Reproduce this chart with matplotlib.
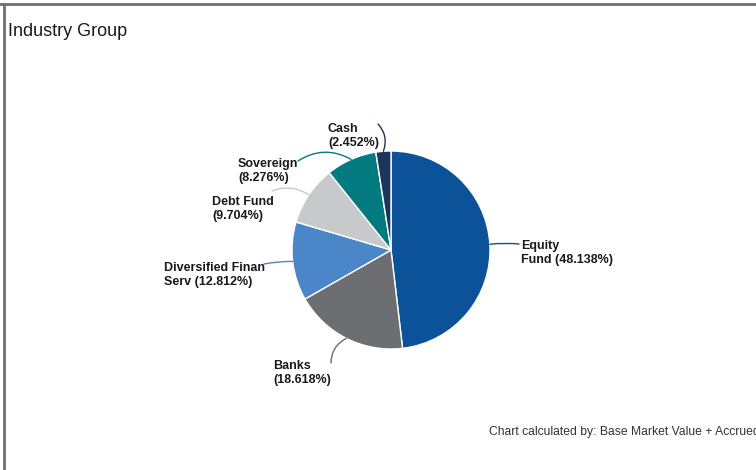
import matplotlib
matplotlib.use("Agg")
import matplotlib.pyplot as plt
from matplotlib.lines import Line2D
import numpy as np

# data
labels = ["Equity\nFund", "Banks", "Diversified Finan\nServ", "Debt Fund", "Sovereign", "Cash"]
values = [48.138, 18.618, 12.812, 9.704, 8.276, 2.452]
colors = ["#0b5299", "#6d6e71", "#4a86c8", "#c8c9ca", "#037a7f", "#1c355e"]

W, H = 756, 470
plt.rcParams['font.family'] = ['Liberation Sans', 'DejaVu Sans']

fig = plt.figure(figsize=(W / 100, H / 100), dpi=100)
ax = fig.add_axes([0, 0, 1, 1])

cx, cy, r = 391, H - 250, 99
wedges, _ = ax.pie(values, colors=colors, startangle=90, counterclock=False,
                   center=(cx, cy), radius=r,
                   wedgeprops=dict(edgecolor="white", linewidth=1))
ax.set_xlim(0, W)
ax.set_ylim(0, H)
ax.axis("off")

# label layout (pixel coords: text top-left, connector end, curvature)
text_pos = [(521, 240), (273, 360), (164, 262), (212, 196), (238, 158), (328, 123)]
line_end = [(519, 244), (331, 363), (264, 264), (272, 191), (298, 161), (378, 124)]
rads = [0.05, -0.3, -0.05, -0.25, -0.3, -0.3]

for w, lab, val, col, tp, le, rad in zip(wedges, labels, values, colors,
                                         text_pos, line_end, rads):
    ang = np.deg2rad((w.theta1 + w.theta2) / 2)
    anchor = (cx + r * np.cos(ang), cy + r * np.sin(ang))
    ax.annotate("", xy=anchor, xytext=(le[0], H - le[1]),
                arrowprops=dict(arrowstyle="-", color=col, lw=1,
                                shrinkA=0, shrinkB=0,
                                connectionstyle="arc3,rad=%s" % rad))
    txt = "%s (%.3f%%)" % (lab, val) if "\n" in lab else "%s\n(%.3f%%)" % (lab, val)
    ax.text(tp[0], H - tp[1], txt, ha="left", va="top", fontsize=9,
            fontweight="bold", color="#1a1a1a", linespacing=1.2)

fig.text(8 / W, 1 - 31 / H, "Industry Group", ha="left", va="center",
         fontsize=13, color="#1a1a1a")
fig.text(489 / W, 1 - 432 / H, "Chart calculated by: Base Market Value + Accrued",
         ha="left", va="center", fontsize=8.7, color="#333333")

# frame (top and left edges visible)
fig.add_artist(Line2D([0, 1], [1 - 3.5 / H, 1 - 3.5 / H], color="#707070", lw=2))
fig.add_artist(Line2D([3.5 / W, 3.5 / W], [0, 1 - 3.5 / H], color="#707070", lw=2))

fig.savefig("out.png", dpi=100)
